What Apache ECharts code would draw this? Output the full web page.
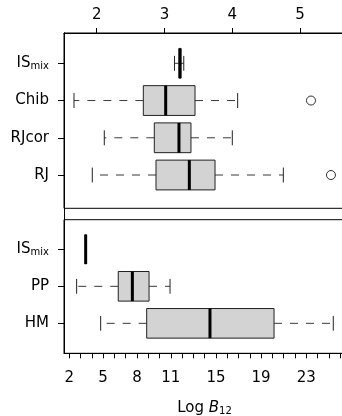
<!DOCTYPE html>
<html>
<head>
<meta charset="utf-8">
<script src="https://cdn.jsdelivr.net/npm/echarts@6/dist/echarts.min.js"></script>
<style>
  html, body { margin: 0; padding: 0; background: #fff; }
  #chart { width: 342px; height: 416px; }
</style>
</head>
<body>
<div id="chart"></div>
<script>
// Upper panel: methods on the Log B12 scale 2..5
const topCategories = ['IS_mix', 'Chib', 'RJcor', 'RJ'];
// [lower whisker, Q1, median, Q3, upper whisker]
const topStats = [
  [3.148, 3.215, 3.229, 3.242, 3.285],
  [1.665, 2.688, 3.018, 3.451, 4.080],
  [2.112, 2.850, 3.214, 3.391, 4.001],
  [1.935, 2.875, 3.367, 3.746, 4.754]
];
// [value, category]
const topOutliers = [[5.162, 'Chib'], [5.457, 'RJ']];
const topTicks = [2, 3, 4, 5];

// Lower panel: methods on the wider Log B12 scale
const bottomCategories = ['IS_mix', 'PP', 'HM'];
const bottomStats = [
  [3.44, 3.445, 3.45, 3.455, 3.46],
  [2.65, 6.34, 7.59, 9.07, 10.93],
  [4.78, 8.86, 14.47, 20.15, 25.40]
];
const bottomOutliers = [];
const bottomTicks = [2,3,4,5,6,7,8,9,10,11,12,13,14,15,16,17,18,19,20,21,22,23,24,25,26];
const bottomTickLabels = [2, 5, 8, 11, 15, 19, 23];

const FONT = 'DejaVu Sans';

function catLabel(name) {
  if (name === 'IS_mix') return '{m|IS}{s|mix}';
  return '{m|' + name + '}';
}
const labelRich = {
  m: { fontFamily: FONT, fontSize: 15, color: '#000' },
  s: { fontFamily: FONT, fontSize: 10, color: '#000', padding: [7, 0, 0, 0] }
};

function renderBox(params, api) {
  const pos = api.value(0);
  const lo = api.value(1), q1 = api.value(2), med = api.value(3), q3 = api.value(4), hi = api.value(5);
  const half = Math.abs(api.size([0, 0.8])[1]) / 2;
  const cap = half / 2;
  const y = api.coord([med, pos])[1];
  const xLo = api.coord([lo, pos])[0];
  const xQ1 = api.coord([q1, pos])[0];
  const xMed = api.coord([med, pos])[0];
  const xQ3 = api.coord([q3, pos])[0];
  const xHi = api.coord([hi, pos])[0];
  const dash = { stroke: '#3a3a3a', lineWidth: 1, lineDash: [8, 8] };
  const solid = { stroke: '#222', lineWidth: 1 };
  return {
    type: 'group',
    children: [
      { type: 'line', shape: { x1: xQ1, y1: y, x2: xLo, y2: y }, style: dash },
      { type: 'line', shape: { x1: xQ3, y1: y, x2: xHi, y2: y }, style: dash },
      { type: 'line', shape: { x1: xLo, y1: y - cap, x2: xLo, y2: y + cap }, style: solid },
      { type: 'line', shape: { x1: xHi, y1: y - cap, x2: xHi, y2: y + cap }, style: solid },
      { type: 'rect', shape: { x: xQ1, y: y - half, width: xQ3 - xQ1, height: 2 * half },
        style: { fill: '#d3d3d3', stroke: '#222', lineWidth: 1 } },
      { type: 'line', shape: { x1: xMed, y1: y - half, x2: xMed, y2: y + half },
        style: { stroke: '#000', lineWidth: 3 } }
    ]
  };
}

const chart = echarts.init(document.getElementById('chart'), null, { renderer: 'canvas' });

const topPos = topCategories.map((c, i) => i + 1);
const bottomPos = bottomCategories.map((c, i) => i + 1);

const gridBase = { left: 64, right: -3, outerBoundsMode: 'none', containLabel: false };

chart.setOption({
  animation: false,
  backgroundColor: '#fff',
  grid: [
    Object.assign({ top: 33, height: 175.3, show: true, borderColor: '#000', borderWidth: 1, backgroundColor: 'transparent' }, gridBase),
    Object.assign({ top: 219.7, height: 133.6, show: true, borderColor: '#000', borderWidth: 1, backgroundColor: 'transparent' }, gridBase),
    Object.assign({ top: 33, height: 320.3, show: false }, gridBase)
  ],
  xAxis: [
    {
      gridIndex: 0, type: 'value', position: 'top', min: 1.5175, max: 5.664,
      axisLine: { show: true, lineStyle: { color: '#000' } },
      axisTick: { show: true, length: 5, customValues: topTicks, lineStyle: { color: '#000' } },
      axisLabel: { customValues: topTicks, margin: 10, fontFamily: FONT, fontSize: 15, color: '#000' },
      splitLine: { show: false }
    },
    {
      gridIndex: 1, type: 'value', position: 'bottom', min: 1.53, max: 26.44,
      axisLine: { show: true, lineStyle: { color: '#000' } },
      axisTick: { show: true, length: 5, customValues: bottomTicks, lineStyle: { color: '#000' } },
      axisLabel: { customValues: bottomTickLabels, margin: 17, fontFamily: FONT, fontSize: 15, color: '#000' },
      splitLine: { show: false },
      name: '{n|Log }{b|B}{s|12}',
      nameLocation: 'middle',
      nameGap: 46,
      nameTextStyle: {
        rich: {
          n: { fontFamily: FONT, fontSize: 15, color: '#000' },
          b: { fontFamily: FONT, fontSize: 15, fontStyle: 'italic', color: '#000' },
          s: { fontFamily: FONT, fontSize: 10, color: '#000', padding: [7, 0, 0, 0] }
        }
      }
    },
    { gridIndex: 2, type: 'value', show: false, min: 0, max: 1 }
  ],
  yAxis: [
    {
      gridIndex: 0, type: 'value', inverse: true, min: 0.186, max: 4.894,
      axisLine: { show: true, lineStyle: { color: '#000' } },
      axisTick: { show: true, length: 6, customValues: topPos, lineStyle: { color: '#000' } },
      axisLabel: {
        customValues: topPos, margin: 15,
        formatter: v => catLabel(topCategories[Math.round(v) - 1]),
        rich: labelRich
      },
      splitLine: { show: false }
    },
    {
      gridIndex: 1, type: 'value', inverse: true, min: 0.2, max: 3.81,
      axisLine: { show: true, lineStyle: { color: '#000' } },
      axisTick: { show: true, length: 6, customValues: bottomPos, lineStyle: { color: '#000' } },
      axisLabel: {
        customValues: bottomPos, margin: 15,
        formatter: v => catLabel(bottomCategories[Math.round(v) - 1]),
        rich: labelRich
      },
      splitLine: { show: false }
    },
    {
      gridIndex: 2, type: 'value', min: 0, max: 1,
      axisLine: { show: true, lineStyle: { color: '#000' } },
      axisTick: { show: false }, axisLabel: { show: false }, splitLine: { show: false }
    }
  ],
  series: [
    {
      type: 'custom', xAxisIndex: 0, yAxisIndex: 0,
      renderItem: renderBox,
      encode: { x: [1, 2, 3, 4, 5], y: 0 },
      data: topStats.map((s, i) => [topPos[i]].concat(s)),
      clip: false
    },
    {
      type: 'scatter', xAxisIndex: 0, yAxisIndex: 0,
      symbol: 'circle', symbolSize: 9,
      itemStyle: { color: '#fff', borderColor: '#000', borderWidth: 1 },
      data: topOutliers.map(o => [o[0], topCategories.indexOf(o[1]) + 1])
    },
    {
      type: 'custom', xAxisIndex: 1, yAxisIndex: 1,
      renderItem: renderBox,
      encode: { x: [1, 2, 3, 4, 5], y: 0 },
      data: bottomStats.map((s, i) => [bottomPos[i]].concat(s)),
      clip: false
    },
    {
      type: 'scatter', xAxisIndex: 1, yAxisIndex: 1,
      symbol: 'circle', symbolSize: 9,
      itemStyle: { color: '#fff', borderColor: '#000', borderWidth: 1 },
      data: bottomOutliers.map(o => [o[0], bottomCategories.indexOf(o[1]) + 1])
    }
  ]
});
</script>
</body>
</html>
